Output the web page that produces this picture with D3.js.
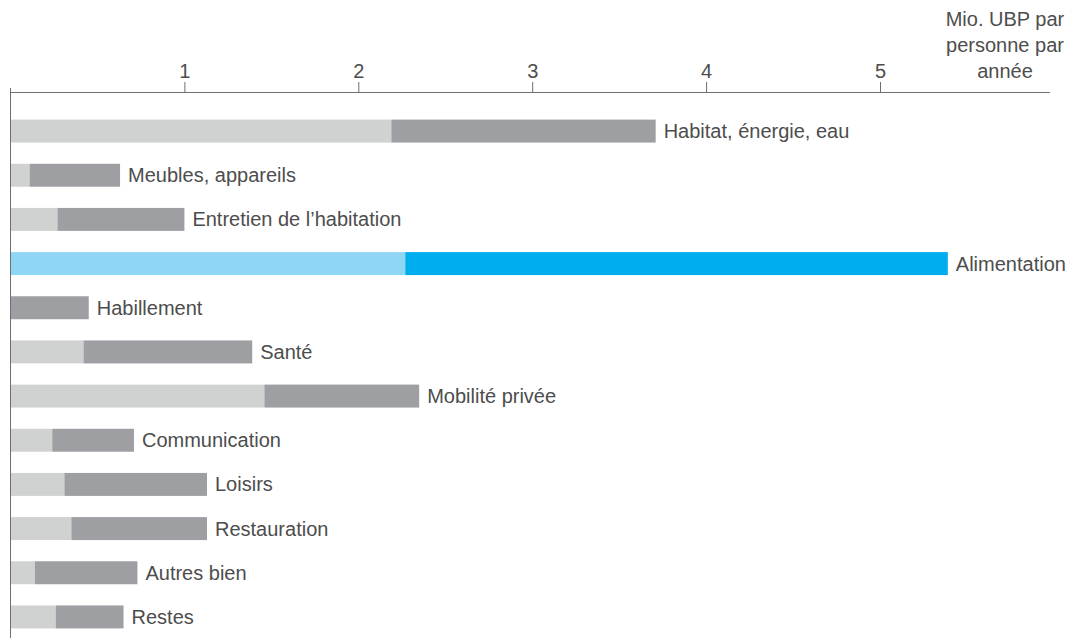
<!DOCTYPE html>
<html>
<head>
<meta charset="utf-8">
<script src="https://cdn.jsdelivr.net/npm/d3@7"></script>
<style>
  html, body { margin: 0; padding: 0; background: #ffffff; }
  svg { display: block; }
  text { font-family: "Liberation Sans", Arial, Helvetica, sans-serif; }
</style>
</head>
<body>
<svg id="chart" width="1074" height="638"></svg>
<script>
// Consumption categories, top to bottom
const categories = [
  "Habitat, énergie, eau",
  "Meubles, appareils",
  "Entretien de l’habitation",
  "Alimentation",
  "Habillement",
  "Santé",
  "Mobilité privée",
  "Communication",
  "Loisirs",
  "Restauration",
  "Autres bien",
  "Restes"
];

// First (light) segment, Mio. UBP per person and year
const partLight = [2.19, 0.11, 0.27, 2.27, 0.00, 0.42, 1.46, 0.24, 0.31, 0.35, 0.14, 0.26];
// Second (dark) segment, Mio. UBP per person and year
const partDark  = [1.52, 0.52, 0.73, 3.12, 0.45, 0.97, 0.89, 0.47, 0.82, 0.78, 0.59, 0.39];

// Category drawn in the highlight colours
const highlighted = ["Alimentation"];

const tickValues = [1, 2, 3, 4, 5];
const unitLines = ["Mio. UBP par", "personne par", "année"];

const colors = {
  light: "#d0d2d1",
  dark: "#9d9fa2",
  lightHi: "#8fd6f5",
  darkHi: "#00aeef",
  text: "#4d4d4d",
  axis: "#6d6e70"
};

const svg = d3.select("#chart");
const axisY = 92;

const x = d3.scaleLinear().domain([0, 5]).range([10.5, 880]);
const y = d3.scaleBand()
  .domain(categories)
  .range([109, 639])
  .paddingInner(0.48)
  .paddingOuter(0.24);

const rows = categories.map((c, i) => ({
  name: c,
  light: partLight[i],
  dark: partDark[i],
  hi: highlighted.includes(c)
}));

// Bars: light segment from zero, dark segment stacked on top
const g = svg.append("g");
g.selectAll("rect.light")
  .data(rows)
  .join("rect")
  .attr("class", "light")
  .attr("x", x(0))
  .attr("y", d => y(d.name))
  .attr("width", d => x(d.light) - x(0))
  .attr("height", y.bandwidth())
  .attr("fill", d => d.hi ? colors.lightHi : colors.light);

g.selectAll("rect.dark")
  .data(rows)
  .join("rect")
  .attr("class", "dark")
  .attr("x", d => x(d.light))
  .attr("y", d => y(d.name))
  .attr("width", d => x(d.light + d.dark) - x(d.light))
  .attr("height", y.bandwidth())
  .attr("fill", d => d.hi ? colors.darkHi : colors.dark);

// Category labels at the end of each bar
g.selectAll("text.cat")
  .data(rows)
  .join("text")
  .attr("class", "cat")
  .attr("x", d => x(d.light + d.dark) + 8)
  .attr("y", d => y(d.name) + y.bandwidth() / 2)
  .attr("dy", "0.35em")
  .attr("font-size", 20)
  .attr("fill", colors.text)
  .text(d => d.name);

// Value axis along the top
const axis = svg.append("g")
  .attr("transform", `translate(0,${axisY})`)
  .call(d3.axisTop(x).tickValues(tickValues).tickSize(10).tickPadding(4).tickFormat(d3.format("d")));
axis.select(".domain").remove();
axis.selectAll(".tick line").attr("stroke", colors.axis);
axis.selectAll(".tick text")
  .attr("font-size", 20)
  .attr("font-family", "Liberation Sans, Arial, sans-serif")
  .attr("fill", colors.text);

svg.append("line")
  .attr("x1", 10).attr("x2", 1050)
  .attr("y1", axisY + 0.5).attr("y2", axisY + 0.5)
  .attr("stroke", colors.axis).attr("stroke-width", 1);

svg.append("line")
  .attr("x1", 10.5).attr("x2", 10.5)
  .attr("y1", axisY - 4).attr("y2", 638)
  .attr("stroke", colors.axis).attr("stroke-width", 1);

// Unit label
svg.append("text")
  .attr("x", 1005)
  .attr("y", 26)
  .attr("text-anchor", "middle")
  .attr("font-size", 20)
  .attr("fill", colors.text)
  .selectAll("tspan")
  .data(unitLines)
  .join("tspan")
  .attr("x", 1005)
  .attr("dy", (d, i) => i === 0 ? 0 : 26)
  .text(d => d);
</script>
</body>
</html>
